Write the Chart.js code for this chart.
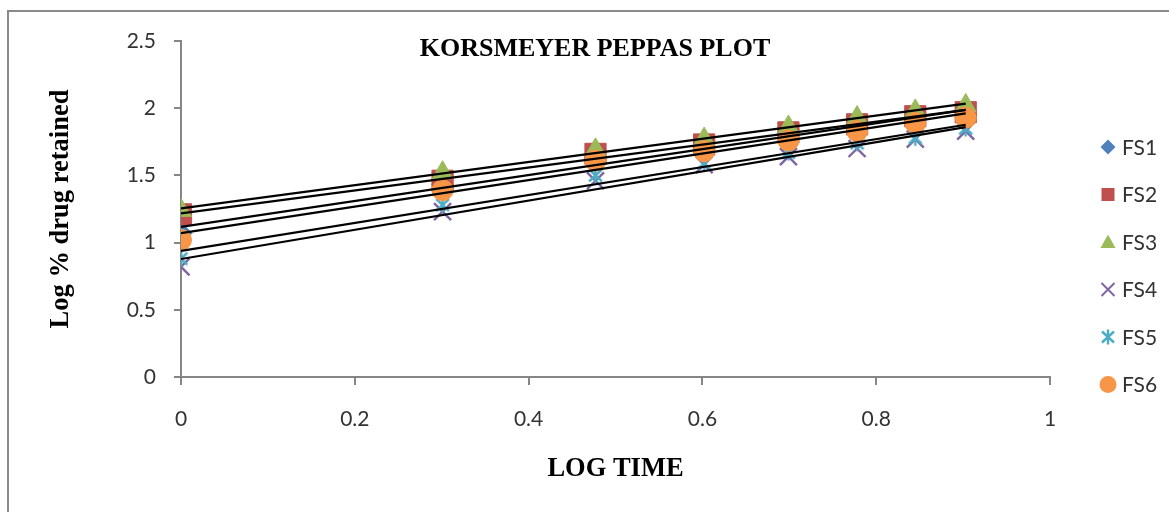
<!DOCTYPE html>
<html>
<head>
<meta charset="utf-8">
<script src="https://cdn.jsdelivr.net/npm/chart.js@4/dist/chart.umd.min.js"></script>
<style>
html,body{margin:0;padding:0;background:#fff;}
#wrap{position:relative;width:1169px;height:512px;}
</style>
</head>
<body>
<div id="wrap"><canvas id="c" width="1169" height="512"></canvas></div>
<script>
// ---- data ----
const logTime = [0, 0.301, 0.477, 0.602, 0.699, 0.778, 0.845, 0.903];
const seriesNames = ['FS1', 'FS2', 'FS3', 'FS4', 'FS5', 'FS6'];
const fs1 = [1.07, 1.43, 1.63, 1.71, 1.80, 1.86, 1.92, 1.95];
const fs2 = [1.21, 1.46, 1.66, 1.73, 1.82, 1.88, 1.94, 1.97];
const fs3 = [1.24, 1.52, 1.69, 1.77, 1.86, 1.93, 1.98, 2.02];
const fs4 = [0.82, 1.23, 1.46, 1.58, 1.64, 1.70, 1.77, 1.83];
const fs5 = [0.88, 1.28, 1.50, 1.59, 1.67, 1.74, 1.78, 1.85];
const fs6 = [1.02, 1.39, 1.61, 1.68, 1.76, 1.83, 1.89, 1.93];
const xTicks = [0, 0.2, 0.4, 0.6, 0.8, 1];
const yTicks = [0, 0.5, 1, 1.5, 2, 2.5];
const titleText = 'KORSMEYER PEPPAS PLOT';
const xTitle = 'LOG TIME';
const yTitle = 'Log % drug retained';

const colors = ['#4F81BD', '#C0504D', '#9BBB59', '#8064A2', '#4BACC6', '#F79646'];
const allSeries = [fs1, fs2, fs3, fs4, fs5, fs6];

// asterisk marker (Excel "star")
function makeStar(size, color, lw) {
  const c = document.createElement('canvas');
  c.width = size; c.height = size;
  const g = c.getContext('2d');
  g.strokeStyle = color; g.lineWidth = lw; g.lineCap = 'butt';
  const m = size / 2, r = size / 2 - 1.5;
  g.beginPath();
  g.moveTo(m - r * 0.8, m - r * 0.75); g.lineTo(m + r * 0.8, m + r * 0.75);
  g.moveTo(m + r * 0.8, m - r * 0.75); g.lineTo(m - r * 0.8, m + r * 0.75);
  g.moveTo(m, m - r); g.lineTo(m, m + r);
  g.stroke();
  return c;
}
const starPlot = makeStar(19, colors[4], 2.4);

const styles = [
  {pointStyle: 'rectRot', radius: 11},
  {pointStyle: 'rect', radius: 15},
  {pointStyle: 'triangle', radius: 12},
  {pointStyle: 'crossRot', radius: 12},
  {pointStyle: starPlot, radius: 9.5},
  {pointStyle: 'circle', radius: 10.5}
];

function fit(xs, ys) {
  const n = xs.length;
  let sx = 0, sy = 0, sxx = 0, sxy = 0;
  for (let i = 0; i < n; i++) { sx += xs[i]; sy += ys[i]; sxx += xs[i] * xs[i]; sxy += xs[i] * ys[i]; }
  const m = (n * sxy - sx * sy) / (n * sxx - sx * sx);
  const b = (sy - m * sx) / n;
  return {m, b};
}

const datasets = [];
allSeries.forEach((ys, i) => {
  datasets.push({
    type: 'scatter',
    label: seriesNames[i],
    data: logTime.map((x, k) => ({x, y: ys[k]})),
    showLine: false,
    pointStyle: styles[i].pointStyle,
    pointRadius: styles[i].radius,
    pointHoverRadius: styles[i].radius,
    backgroundColor: colors[i],
    borderColor: colors[i],
    borderWidth: i === 3 ? 2.4 : 1,
    order: 10 - i
  });
});
allSeries.forEach((ys, i) => {
  const f = fit(logTime, ys);
  const x0 = logTime[0], x1 = logTime[logTime.length - 1];
  datasets.push({
    type: 'line',
    label: 'trend ' + seriesNames[i],
    data: [{x: x0, y: f.b + f.m * x0}, {x: x1, y: f.b + f.m * x1}],
    borderColor: '#000',
    borderWidth: 2.2,
    pointRadius: 0,
    fill: false,
    order: 0
  });
});

const tickFont = {family: 'Lato', size: 21};
const serifBold = {family: 'Liberation Serif', size: 26.5, weight: 'bold'};
const fmt = v => String(+Number(v).toFixed(2));

function drawMarker(ctx, i, x, y) {
  ctx.save();
  ctx.fillStyle = colors[i]; ctx.strokeStyle = colors[i];
  ctx.beginPath();
  if (i === 0) {
    const r = 7.5;
    ctx.moveTo(x, y - r); ctx.lineTo(x + r, y); ctx.lineTo(x, y + r); ctx.lineTo(x - r, y); ctx.closePath(); ctx.fill();
  } else if (i === 1) {
    ctx.fillRect(x - 6.5, y - 6.5, 13, 13);
  } else if (i === 2) {
    ctx.moveTo(x, y - 7.5); ctx.lineTo(x + 7.5, y + 6); ctx.lineTo(x - 7.5, y + 6); ctx.closePath(); ctx.fill();
  } else if (i === 3) {
    ctx.lineWidth = 2;
    ctx.moveTo(x - 6.5, y - 6.5); ctx.lineTo(x + 6.5, y + 6.5); ctx.moveTo(x + 6.5, y - 6.5); ctx.lineTo(x - 6.5, y + 6.5); ctx.stroke();
  } else if (i === 4) {
    ctx.lineWidth = 2.4;
    ctx.moveTo(x - 6, y - 5.5); ctx.lineTo(x + 6, y + 5.5); ctx.moveTo(x + 6, y - 5.5); ctx.lineTo(x - 6, y + 5.5);
    ctx.moveTo(x, y - 7.5); ctx.lineTo(x, y + 7.5); ctx.stroke();
  } else {
    ctx.arc(x, y, 8.5, 0, Math.PI * 2); ctx.fill();
  }
  ctx.restore();
}

const decor = {
  id: 'decor',
  beforeDraw(chart) {
    const ctx = chart.ctx;
    ctx.save();
    ctx.fillStyle = '#fff';
    ctx.fillRect(0, 0, chart.width, chart.height);
    ctx.strokeStyle = '#8a8a8a';
    ctx.lineWidth = 2;
    ctx.strokeRect(8, 11, 1300, 700);
    ctx.restore();
  },
  afterDraw(chart) {
    const ctx = chart.ctx;
    ctx.save();
    // title inside plot area
    ctx.font = 'bold 26px "Liberation Serif"';
    ctx.fillStyle = '#000';
    ctx.textAlign = 'center';
    ctx.textBaseline = 'middle';
    ctx.fillText(titleText, 595, 49);
    // legend
    ctx.font = '21px Lato';
    ctx.fillStyle = '#333';
    ctx.textAlign = 'left';
    const rows = [147, 194.5, 242, 289.5, 337, 384.5];
    seriesNames.forEach((name, i) => {
      drawMarker(ctx, i, 1108, rows[i]);
      ctx.fillText(name, 1122, rows[i] + 1);
    });
    ctx.restore();
  }
};

new Chart(document.getElementById('c'), {
  data: {datasets},
  options: {
    responsive: false,
    animation: false,
    events: [],
    layout: {padding: {left: 41, top: 41, right: 119, bottom: 23}},
    plugins: {legend: {display: false}, title: {display: false}, tooltip: {enabled: false}},
    scales: {
      x: {
        type: 'linear',
        min: 0, max: 1,
        afterBuildTicks(s) { s.ticks = xTicks.map(v => ({value: v})); },
        afterFit(s) { s.height = 112; },
        grid: {drawOnChartArea: false, drawTicks: true, tickLength: 8, color: '#868686', lineWidth: 2},
        border: {color: '#868686', width: 2},
        ticks: {font: tickFont, color: '#333', padding: 22, maxRotation: 0, callback: fmt},
        title: {display: true, text: xTitle, font: serifBold, color: '#000', padding: {top: 4, bottom: 4}}
      },
      y: {
        type: 'linear',
        min: 0, max: 2.5,
        afterBuildTicks(s) { s.ticks = yTicks.map(v => ({value: v})); },
        afterFit(s) { s.width = 140; },
        grid: {drawOnChartArea: false, drawTicks: true, tickLength: 7, color: '#868686', lineWidth: 2},
        border: {color: '#868686', width: 2},
        ticks: {font: tickFont, color: '#333', padding: 18, callback: fmt},
        title: {display: true, text: yTitle, font: serifBold, color: '#000', padding: {top: 4, bottom: 4}}
      }
    }
  },
  plugins: [decor]
});
</script>
</body>
</html>
